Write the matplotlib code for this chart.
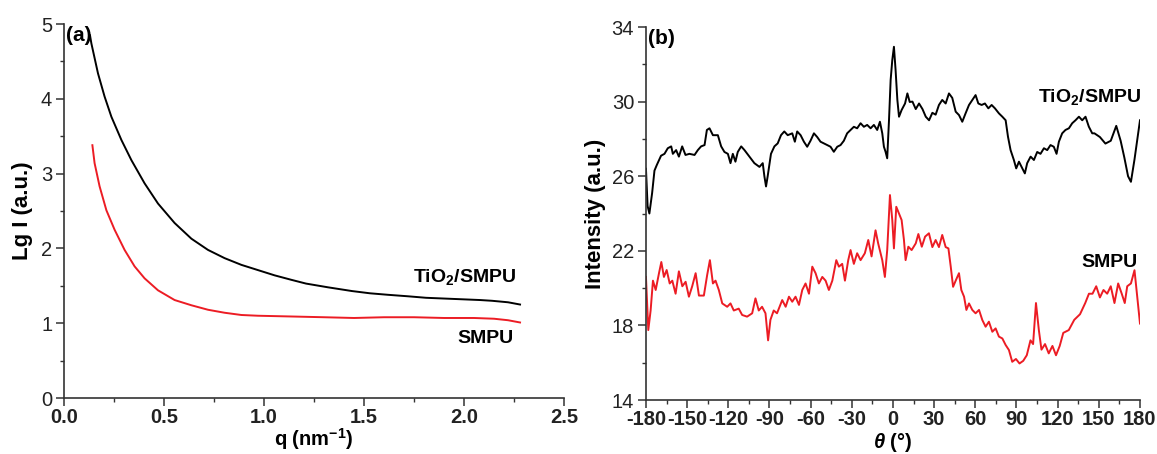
import matplotlib
matplotlib.use("Agg")
import matplotlib.pyplot as plt
from matplotlib.ticker import MultipleLocator

plt.rcParams['font.family'] = ['Liberation Sans', 'DejaVu Sans']
plt.rcParams['mathtext.fontset'] = 'custom'
plt.rcParams['mathtext.rm'] = 'Liberation Sans:bold'
plt.rcParams['mathtext.it'] = 'Liberation Sans:bold:italic'
plt.rcParams['mathtext.bf'] = 'Liberation Sans:bold'

# (a) SAXS curves, Lg I vs q
q_tio2 = [0.13, 0.137, 0.17, 0.203, 0.237, 0.287, 0.337, 0.403, 0.47, 0.553, 0.637,
          0.72, 0.803, 0.887, 0.97, 1.053, 1.137, 1.21, 1.32, 1.44, 1.53, 1.62,
          1.72, 1.81, 1.90, 1.99, 2.08, 2.14, 2.22, 2.28]
lg_tio2 = [4.85, 4.74, 4.34, 4.03, 3.76, 3.45, 3.18, 2.87, 2.60, 2.34, 2.13,
           1.98, 1.87, 1.78, 1.71, 1.64, 1.58, 1.53, 1.48, 1.43, 1.40, 1.38,
           1.36, 1.34, 1.33, 1.32, 1.31, 1.30, 1.28, 1.25]

q_smpu = [0.142, 0.153, 0.178, 0.212, 0.253, 0.303, 0.353, 0.403, 0.47, 0.553, 0.637,
          0.72, 0.803, 0.887, 0.97, 1.137, 1.30, 1.45, 1.60, 1.75, 1.90, 2.05,
          2.15, 2.22, 2.28]
lg_smpu = [3.38, 3.14, 2.83, 2.51, 2.25, 1.98, 1.76, 1.60, 1.44, 1.31, 1.24,
           1.18, 1.14, 1.11, 1.10, 1.09, 1.08, 1.07, 1.08, 1.08, 1.07, 1.07,
           1.06, 1.04, 1.01]

# (b) azimuthal intensity profiles
theta_tio2 = [-180, -178.8, -177.5, -175.5, -173.8, -172.1, -169, -166.5, -164.1, -161.6,
              -160.4, -158, -156, -153.6, -151.2, -148.3, -144.6, -142.2, -139.8, -137.3,
              -135.6, -133.7, -131.2, -127.6, -125.2, -122.8, -120.3, -118.4, -116.7, -114.8,
              -113.1, -110.6, -108.2, -104.6, -101, -97.3, -94.9, -93.7, -92.5, -91.3,
              -88.9, -86.4, -84, -81.6, -79.2, -76.7, -73.4, -71.5, -69.8, -67.3,
              -64.9, -62.5, -60.1, -57.6, -55.2, -52.8, -50.3, -47.9, -45.5, -43.1,
              -40.6, -38.2, -35.8, -33.4, -30.9, -28.5, -26.1, -23.6, -21.2, -18.8,
              -16.3, -13.9, -11.5, -9.5, -7.8, -6.6, -5.4, -4.2, -2.9, -1.7,
              -0.5, 0.7, 1.9, 3.2, 4.4, 6.3, 8.8, 10.5, 12.2, 14.2,
              16.6, 19, 21.5, 23.9, 26.3, 28.7, 31.1, 33.5, 35.9, 38.4,
              40.8, 43.2, 45.7, 48.1, 50.5, 52.9, 55.4, 57.8, 60.2, 62.2,
              64.6, 67, 69.5, 71.9, 74.3, 77.2, 79.7, 82.1, 83.8, 85.7,
              88.1, 89.8, 91.8, 93.7, 96.1, 97.8, 100.3, 102.7, 105.1, 107.5,
              110, 112.4, 114.8, 117.2, 119.2, 120.9, 123.3, 125.7, 128.2, 130.6,
              133, 135.5, 137.9, 140.3, 142.7, 145.2, 146.8, 150.8, 154.8, 158.7,
              162.7, 165.9, 168.6, 171.3, 173.4, 176, 180]
int_tio2 = [26.4, 24.4, 24.0, 25.1, 26.3, 26.6, 27.1, 27.2, 27.5, 27.6,
            27.2, 27.4, 27.05, 27.6, 27.14, 27.2, 27.14, 27.4, 27.6, 27.67,
            28.48, 28.57, 28.2, 28.2, 27.6, 27.3, 27.2, 26.7, 27.2, 26.78,
            27.3, 27.6, 27.4, 27.05, 26.7, 26.5, 26.7, 26.0, 25.45, 26.0,
            27.2, 27.6, 27.76, 28.2, 28.4, 28.2, 28.3, 27.85, 28.4, 28.2,
            27.85, 27.58, 27.9, 28.3, 28.1, 27.85, 27.76, 27.67, 27.58, 27.31,
            27.58, 27.67, 27.9, 28.3, 28.48, 28.65, 28.57, 28.84, 28.65, 28.75,
            28.57, 28.75, 28.48, 28.92, 28.3, 27.58, 27.31, 26.96, 29.0, 31.16,
            32.23, 32.94, 31.7, 30.09, 29.19, 29.55, 29.9, 30.44, 29.98, 30.0,
            29.6, 29.9, 29.6, 29.19, 29.0, 29.4, 29.3, 29.82, 30.09, 29.9,
            30.44, 30.2, 29.46, 29.28, 28.92, 29.37, 29.82, 30.09, 30.35, 29.9,
            29.82, 29.9, 29.64, 29.82, 29.64, 29.37, 29.19, 29.0, 28.12, 27.4,
            26.87, 26.42, 26.78, 26.5, 26.15, 26.7, 27.05, 26.87, 27.3, 27.2,
            27.5, 27.4, 27.67, 27.58, 27.2, 27.85, 28.3, 28.48, 28.57, 28.84,
            29.0, 29.19, 29.0, 29.19, 28.66, 28.3, 28.3, 28.1, 27.75, 27.9,
            28.7, 27.9, 27.0, 26.0, 25.7, 26.9, 29.0]

theta_smpu = [-180, -178.3, -176.6, -174.9, -172.9, -170.5, -168.8, -166.9, -164.9, -162.7,
              -160.8, -158.4, -156, -153.5, -151.1, -148.7, -146.3, -143.8, -141.4, -137.8,
              -135.4, -133.4, -131.2, -129.3, -126.9, -124.4, -120.8, -118.4, -116, -112.4,
              -109.9, -106.3, -102.6, -100.2, -97.8, -95.4, -92.9, -91, -89.3, -86.9,
              -84.5, -80.7, -78.2, -75.8, -73.4, -71, -68.5, -66.1, -63.7, -61.2,
              -58.8, -56.4, -54, -51.5, -49.1, -46.7, -44.2, -41.3, -39.4, -37,
              -35, -32.6, -30.9, -28.5, -26.1, -23.6, -20.5, -18, -15.6, -12.7,
              -10.8, -7.8, -5.9, -4.2, -2.2, -0.5, 0.7, 2.4, 4.4, 6.3,
              8, 9.2, 11.2, 13.6, 16.6, 18.5, 21, 23.4, 26.2, 28.7,
              31.1, 33.5, 35.9, 38.4, 40.4, 42.1, 43.8, 45.7, 48.1, 49.8,
              51.8, 53.5, 55.4, 57.8, 60.2, 62.7, 65.1, 67.5, 69.9, 72.4,
              74.8, 77.2, 79.7, 82.1, 84.5, 86.9, 89.6, 92.2, 94.9, 97.5,
              100.2, 102.1, 104.2, 106.3, 108.2, 110.8, 113.5, 116.2, 118.8, 121.5,
              124.1, 128.1, 132.1, 136.3, 140.1, 142.8, 145.4, 148.1, 150.8, 153.4,
              156.1, 158.7, 161.4, 164.1, 166.7, 168.9, 170.7, 173.4, 176, 180]
int_smpu = [20.6, 17.75, 18.8, 20.4, 19.9, 20.8, 21.4, 20.6, 20.97, 20.25,
            20.4, 19.7, 20.9, 20.1, 20.34, 19.54, 20.1, 20.8, 19.6, 19.6,
            20.7, 21.5, 20.25, 20.4, 19.9, 19.18, 19.0, 19.18, 18.8, 18.9,
            18.56, 18.47, 18.65, 19.45, 18.8, 19.0, 18.65, 17.2, 18.3, 18.8,
            18.65, 19.36, 19.0, 19.54, 19.27, 19.54, 19.1, 19.9, 20.25, 19.7,
            21.15, 20.8, 20.25, 20.6, 20.4, 19.9, 20.4, 21.5, 21.15, 21.3,
            20.4, 21.5, 22.04, 21.3, 21.87, 21.5, 21.87, 22.58, 21.7, 23.1,
            22.4, 21.5, 20.6, 22.04, 24.99, 23.65, 22.13, 24.36, 24.0, 23.65,
            22.58, 21.5, 22.22, 22.04, 22.4, 22.9, 22.22, 22.76, 22.94, 22.2,
            22.58, 22.2, 22.85, 22.2, 22.13, 21.15, 20.07, 20.4, 20.8, 19.9,
            19.54, 18.83, 19.18, 18.83, 18.65, 18.83, 18.29, 17.93, 18.2, 17.66,
            17.84, 17.4, 17.3, 16.95, 16.68, 16.05, 16.2, 15.96, 16.1, 16.4,
            17.2, 17.0, 19.2, 17.75, 16.7, 17.0, 16.5, 16.9, 16.4, 16.9,
            17.6, 17.75, 18.3, 18.6, 19.2, 19.7, 19.7, 20.1, 19.5, 19.9,
            19.7, 20.1, 19.2, 20.25, 19.7, 19.2, 20.1, 20.25, 20.96, 18.1]

RED = '#ec1c24'

fig = plt.figure(figsize=(11.57, 4.54), dpi=100)
ax1 = fig.add_axes([0.0553, 0.1233, 0.4322, 0.8238])
ax2 = fig.add_axes([0.5583, 0.1189, 0.4270, 0.8216])

for ax in (ax1, ax2):
    for s in ('top', 'right'):
        ax.spines[s].set_visible(False)
    for s in ('left', 'bottom'):
        ax.spines[s].set_color('#333333')
        ax.spines[s].set_linewidth(1.2)
    ax.tick_params(which='major', direction='out', length=6, width=1.1, color='#333333',
                   labelsize=14.5, labelcolor='#222222', pad=2.5)
    ax.tick_params(which='minor', direction='out', length=3, width=1.0, color='#333333')
    ax.tick_params(axis='x', which='major', pad=1.5)

# panel (a)
ax1.plot(q_tio2, lg_tio2, color='black', lw=1.4)
ax1.plot(q_smpu, lg_smpu, color=RED, lw=1.4)
ax1.set_xlim(0, 2.5)
ax1.set_ylim(0, 5)
ax1.xaxis.set_minor_locator(MultipleLocator(0.25))
ax1.yaxis.set_major_locator(MultipleLocator(1))
ax1.yaxis.set_minor_locator(MultipleLocator(0.5))
ax1.set_xticks([0, 0.5, 1.0, 1.5, 2.0, 2.5])
ax1.set_xticklabels(['0.0', '0.5', '1.0', '1.5', '2.0', '2.5'], fontweight='bold')
ax1.set_xlabel('q (nm$^{-1}$)', fontsize=14.5, fontweight='bold', labelpad=-1)
ax1.set_ylabel('Lg I (a.u.)', fontsize=16, fontweight='bold', labelpad=6)
ax1.text(0.005, 0.995, '(a)', transform=ax1.transAxes, fontsize=15, fontweight='bold',
         va='top', ha='left')
ax1.text(2.26, 1.62, 'TiO$_2$/SMPU', fontsize=14, fontweight='bold', ha='right', va='center')
ax1.text(2.25, 0.80, 'SMPU', fontsize=14, fontweight='bold', ha='right', va='center')

# panel (b)
ax2.plot(theta_tio2, int_tio2, color='black', lw=1.4)
ax2.plot(theta_smpu, int_smpu, color=RED, lw=1.4)
ax2.set_xlim(-180, 180)
ax2.set_ylim(14, 34)
ax2.set_xticks(range(-180, 181, 30))
ax2.set_xticklabels([str(v) for v in range(-180, 181, 30)], fontweight='bold')
ax2.xaxis.set_minor_locator(MultipleLocator(15))
ax2.set_yticks(range(14, 35, 4))
ax2.set_yticks(range(16, 34, 4), minor=True)
ax2.set_xlabel(r'$\theta$ (°)', fontsize=14.5, fontweight='bold', labelpad=1)
ax2.set_ylabel('Intensity (a.u.)', fontsize=16, fontweight='bold', labelpad=4)
ax2.text(0.005, 0.995, '(b)', transform=ax2.transAxes, fontsize=15, fontweight='bold',
         va='top', ha='left')
ax2.text(181, 30.25, 'TiO$_2$/SMPU', fontsize=14, fontweight='bold', ha='right', va='center')
ax2.text(178, 21.4, 'SMPU', fontsize=14, fontweight='bold', ha='right', va='center')

fig.savefig('out.png', dpi=100)
